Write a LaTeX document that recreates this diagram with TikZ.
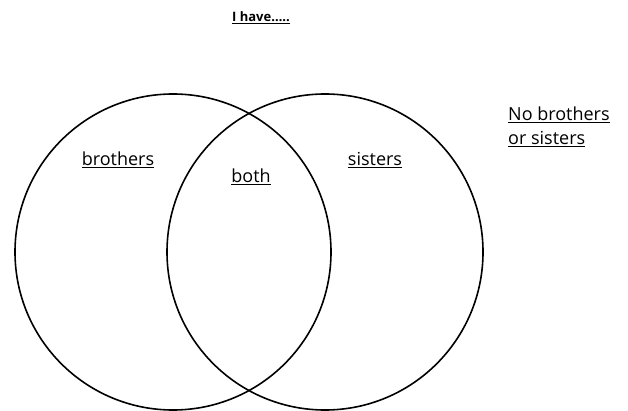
\documentclass[tikz,border=0pt]{standalone}
\usepackage{fontspec}
\setmainfont{Open Sans}
\usetikzlibrary{positioning}

\begin{document}
\begin{tikzpicture}[x=1pt, y=-1pt, font=\fontsize{18}{24}\selectfont, align=left,
  setcirc/.style={draw, circle, line width=1.6pt, minimum size=316pt, inner sep=0pt},
  lbl/.style={inner sep=1pt}]
\useasboundingbox (0,0) rectangle (628,411);
\node[setcirc] (brocirc) at (173,252) {};
\node[setcirc] (siscirc) at (325,252) {};
\node[lbl, font=\fontsize{13}{16}\selectfont\bfseries] (title) at (261,18) {\underline{I have…..}};
\node[lbl] (bro) at (118,160) {\underline{brothers}};
\node[lbl] (both) at (251,177) {\underline{both}};
\node[lbl] (sis) at (375,160) {\underline{sisters}};
\node[lbl, anchor=north west] (none) at (507,106) {\underline{No brothers}\\\underline{or sisters}};
\end{tikzpicture}
\end{document}
